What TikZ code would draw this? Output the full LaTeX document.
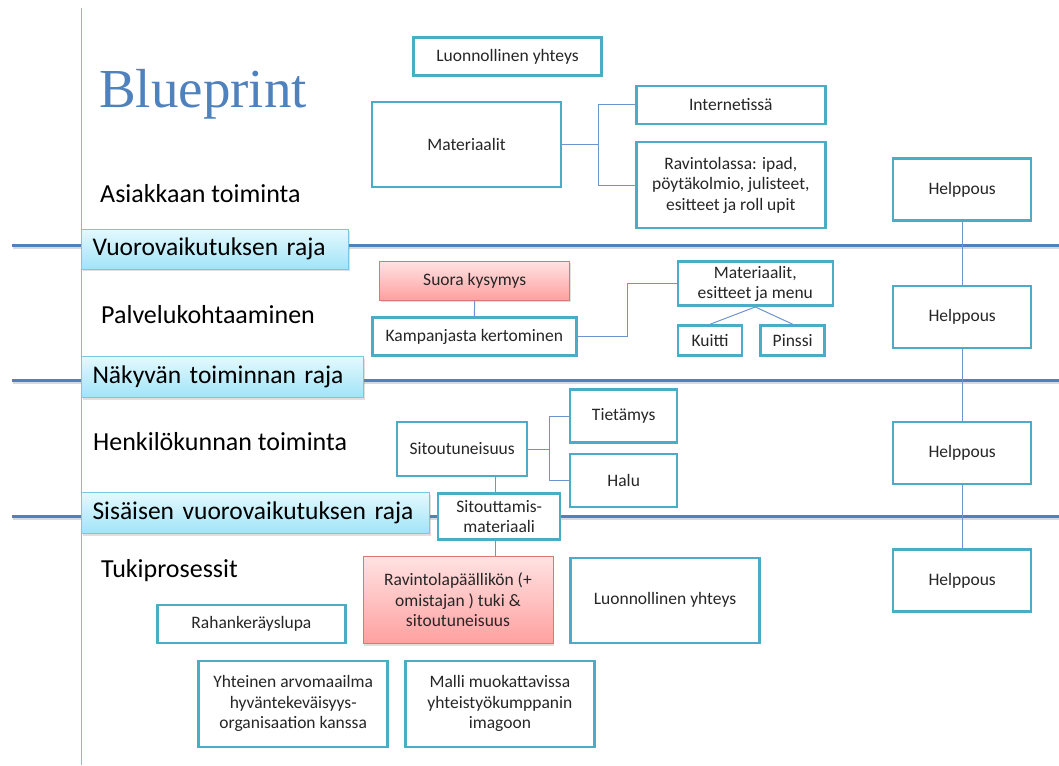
\documentclass[tikz,border=0pt]{standalone}
\usepackage{pgf}
\usepackage{tikz}
\usepackage{fontspec}
\setmainfont{Carlito}
\newfontfamily\titlefont{Liberation Serif}
\usetikzlibrary{arrows.meta}
\usetikzlibrary{calc}
\usetikzlibrary{shapes}
\usetikzlibrary{shadows}

\definecolor{boxblue}{RGB}{75,172,198}
\definecolor{boxtext}{RGB}{38,38,38}
\definecolor{laneblue}{RGB}{79,129,189}
\definecolor{connblue}{RGB}{110,148,205}
\definecolor{axisblue}{RGB}{149,179,215}
\definecolor{bannerline}{RGB}{120,200,228}
\definecolor{bannertop}{RGB}{228,249,254}
\definecolor{bannerbottom}{RGB}{160,228,248}
\definecolor{redline}{RGB}{217,120,118}
\definecolor{redtop}{RGB}{255,226,226}
\definecolor{redbottom}{RGB}{255,160,160}

\begin{document}
\begin{tikzpicture}[x=1pt, y=-1pt,
        box_style/.style={rectangle,draw=boxblue,line width=2.5pt,fill=white,text=boxtext,inner sep=0pt,align=center,font=\fontsize{17.5}{20.5}\selectfont},
        red_box_style/.style={box_style,draw=redline,line width=1pt,top color=redtop,bottom color=redbottom,drop shadow={shadow xshift=1pt,shadow yshift=-2pt,opacity=0.25}},
        banner_style/.style={rectangle,draw=bannerline,line width=1pt,top color=bannertop,bottom color=bannerbottom,inner xsep=11pt,inner ysep=0pt,minimum height=40pt,anchor=west,align=left,font=\fontsize{25.5}{30}\selectfont,drop shadow={shadow xshift=1pt,shadow yshift=-2pt,opacity=0.25}},
        lane_label_style/.style={anchor=base west,inner sep=0pt,font=\fontsize{26}{30}\selectfont},
        title_style/.style={anchor=base west,inner sep=0pt,text=laneblue,font=\titlefont\fontsize{55}{60}\selectfont},
        lane_style/.style={draw=laneblue,line width=3pt},
        lane_shadow_style/.style={draw=black,opacity=0.15,line width=3pt},
        axis_style/.style={draw=axisblue,line width=1pt},
        edge_style/.style={draw=connblue,line width=1pt}]

        \useasboundingbox (0,0) rectangle (1059,765);

        \draw [axis_style] (81,8) -- (81,765);

        \draw [lane_shadow_style] (13,247) -- (1059,247);
        \draw [lane_shadow_style] (13,382) -- (1059,382);
        \draw [lane_shadow_style] (13,518.5) -- (1059,518.5);

        \draw [lane_style] (12,245) -- (1059,245);
        \draw [lane_style] (12,380) -- (1059,380);
        \draw [lane_style] (12,516.5) -- (1059,516.5);

        \node [title_style](title) at (99,107) {Blueprint};

        \node [lane_label_style](l1) at (100,202) {Asiakkaan toiminta};

        \node [lane_label_style](l2) at (101,323) {Palvelukohtaaminen};

        \node [lane_label_style](l3) at (93,450) {Henkilökunnan toiminta};

        \node [lane_label_style](l4) at (101,577) {Tukiprosessit};

        \node [banner_style,text width=245pt](b1) at (81,249) {Vuorovaikutuksen raja};

        \node [banner_style,text width=260pt,minimum height=41pt](b2) at (81,377) {Näkyvän toiminnan raja};

        \node [banner_style,text width=326pt,minimum height=41pt](b3) at (81,513) {Sisäisen vuorovaikutuksen raja};

        \node [box_style,minimum width=188pt,minimum height=38pt](lny) at (507.5,56.7) {Luonnollinen yhteys};

        \node [box_style,minimum width=189pt,minimum height=85pt](mat) at (466.5,144.5) {Materiaalit};

        \node [box_style,minimum width=189pt,minimum height=38pt](int) at (730.8,105) {Internetissä};

        \node [box_style,minimum width=189pt,minimum height=86pt](rav) at (730.8,185) {Ravintolassa: ipad,\\pöytäkolmio, julisteet,\\esitteet ja roll upit};

        \node [box_style,minimum width=138pt,minimum height=62pt](h1) at (962.2,189.5) {Helppous};

        \node [box_style,minimum width=138pt,minimum height=62pt](h2) at (962.2,317.2) {Helppous};

        \node [box_style,minimum width=138pt,minimum height=62pt](h3) at (962.2,452.9) {Helppous};

        \node [box_style,minimum width=138pt,minimum height=62pt](h4) at (962.2,580.5) {Helppous};

        \node [red_box_style,minimum width=190pt,minimum height=39pt](suora) at (474.7,280.7) {Suora kysymys};

        \node [box_style,minimum width=204pt,minimum height=38pt](kamp) at (474.3,336.7) {Kampanjasta kertominen};

        \node [box_style,minimum width=155pt,minimum height=44pt](mat2) at (755.3,283.7) {Materiaalit,\\esitteet ja menu};

        \node [box_style,minimum width=64pt,minimum height=30pt](kuitti) at (710,340.5) {Kuitti};

        \node [box_style,minimum width=64pt,minimum height=30pt](pinssi) at (792.7,340.5) {Pinssi};

        \node [box_style,minimum width=130pt,minimum height=54pt](sit) at (462.2,449) {Sitoutuneisuus};

        \node [box_style,minimum width=107pt,minimum height=53pt](tie) at (623.7,416.2) {Tietämys};

        \node [box_style,minimum width=107pt,minimum height=53pt](halu) at (623.7,480.3) {Halu};

        \node [box_style,minimum width=122pt,minimum height=46pt](sitm) at (499.2,516.7) {Sitouttamis-\\materiaali};

        \node [red_box_style,minimum width=190pt,minimum height=87pt](ravp) at (458,600) {Ravintolapäällikön (+\\omistajan ) tuki \&\\sitoutuneisuus};

        \node [box_style,minimum width=189pt,minimum height=85pt](lny2) at (665,600.3) {Luonnollinen yhteys};

        \node [box_style,minimum width=188pt,minimum height=38pt](rahan) at (251.4,624.2) {Rahankeräyslupa};

        \node [box_style,minimum width=189pt,minimum height=86pt](yht) at (293.2,703.8) {Yhteinen arvomaailma\\hyväntekeväisyys-\\organisaation kanssa};

        \node [box_style,minimum width=189pt,minimum height=86pt](malli) at (499.9,703.8) {Malli muokattavissa\\yhteistyökumppanin\\imagoon};

        \draw [edge_style] (mat.east) -- ++(36,0) |- (int.west);

        \draw [edge_style] (mat.east) -- ++(36,0) |- (rav.west);

        \draw [edge_style] (h1) edge (h2);

        \draw [edge_style] (h2) edge (h3);

        \draw [edge_style] (h3) edge (h4);

        \draw [edge_style] (suora) edge (kamp);

        \draw [edge_style] (kamp.east) -- ++(50,0) |- (mat2.west);

        \draw [edge_style] (mat2.south) -- (kuitti.north);

        \draw [edge_style] (mat2.south) -- (pinssi.north);

        \draw [edge_style] (sit.east) -- ++(21,0) |- (tie.west);

        \draw [edge_style] (sit.east) -- ++(21,0) |- (halu.west);

        \draw [edge_style] ($(sit.south -| sitm.north)+(-4,0)$) -- ($(sitm.north)+(-4,0)$);

        \draw [edge_style] ($(sitm.south)+(-4,0)$) -- ($(ravp.north -| sitm.south)+(-4,0)$);

        \end{tikzpicture}
\end{document}
